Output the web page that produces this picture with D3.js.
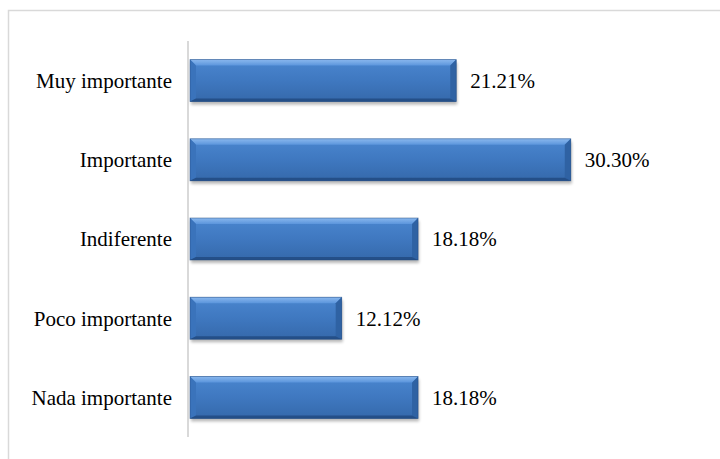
<!DOCTYPE html>
<html><head><meta charset="utf-8">
<script src="https://cdn.jsdelivr.net/npm/d3@7/dist/d3.min.js"></script>
<style>body{margin:0;background:#fff}svg{display:block}</style>
</head><body>
<svg id="c" width="720" height="459"></svg>
<script>
const categories = ["Muy importante","Importante","Indiferente","Poco importante","Nada importante"];
const values = [21.21, 30.30, 18.18, 12.12, 18.18];
const valueLabels = ["21.21%","30.30%","18.18%","12.12%","18.18%"];

const svg = d3.select("#c");
svg.append("rect").attr("x",8.5).attr("y",10.5).attr("width",730).attr("height",470)
  .attr("fill","#fff").attr("stroke","#d9d9d9").attr("stroke-width",1.5);

const x = d3.scaleLinear().domain([0,35]).range([189,189+35*12.6]);
const y = d3.scaleBand().domain(categories).range([41,437]).paddingInner(0.47).paddingOuter(0.235);

const defs = svg.append("defs");
const g1 = defs.append("linearGradient").attr("id","gmain").attr("x1",0).attr("y1",0).attr("x2",0).attr("y2",1);
g1.append("stop").attr("offset","0%").attr("stop-color","#4a86cf");
g1.append("stop").attr("offset","50%").attr("stop-color","#3f78c0");
g1.append("stop").attr("offset","100%").attr("stop-color","#3569ab");
const gt = defs.append("linearGradient").attr("id","gtop").attr("x1",0).attr("y1",0).attr("x2",0).attr("y2",1);
gt.append("stop").attr("offset","0%").attr("stop-color","#8ab8ee");
gt.append("stop").attr("offset","100%").attr("stop-color","#5b95dc");
const f = defs.append("filter").attr("id","sh").attr("x","-5%").attr("y","-20%").attr("width","110%").attr("height","150%");
f.append("feGaussianBlur").attr("stdDeviation",1.5);

svg.append("line").attr("x1",188).attr("x2",188).attr("y1",41).attr("y2",437)
  .attr("stroke","#d9d9d9").attr("stroke-width",2);

const FONT = "'Liberation Serif','Times New Roman',serif";
const bev = 6;
categories.forEach((c,i)=>{
  const x0 = x(0)+1, x1 = x(values[i]), y0 = y(c), h = y.bandwidth(), y1 = y0+h;
  const g = svg.append("g");
  g.append("rect").attr("x",x0+1).attr("y",y0+3).attr("width",x1-x0).attr("height",h)
    .attr("fill","#000").attr("opacity",0.28).attr("filter","url(#sh)");
  g.append("rect").attr("x",x0).attr("y",y0).attr("width",x1-x0).attr("height",h).attr("fill","url(#gmain)");
  g.append("path").attr("d",`M${x0},${y0}L${x1},${y0}L${x1-bev},${y0+bev}L${x0+bev},${y0+bev}Z`).attr("fill","url(#gtop)");
  g.append("path").attr("d",`M${x0},${y0}L${x0+bev},${y0+bev}L${x0+bev},${y1-3}L${x0},${y1}Z`).attr("fill","#3a73bb");
  g.append("path").attr("d",`M${x1},${y0}L${x1},${y1}L${x1-bev},${y1-3}L${x1-bev},${y0+bev}Z`).attr("fill","#2f62a3");
  g.append("path").attr("d",`M${x0},${y1}L${x1},${y1}L${x1-bev},${y1-3}L${x0+bev},${y1-3}Z`).attr("fill","#244f88");
  g.append("rect").attr("x",x0).attr("y",y0).attr("width",x1-x0).attr("height",h)
    .attr("fill","none").attr("stroke","#21497e").attr("stroke-width",0.8).attr("opacity",0.6);
  svg.append("text").attr("x",x1+14).attr("y",y0+h/2).attr("dy","0.35em")
    .style("font-family",FONT).style("font-size","21px").attr("fill","#000").text(valueLabels[i]);
  svg.append("text").attr("x",172).attr("y",y0+h/2).attr("dy","0.35em").attr("text-anchor","end")
    .style("font-family",FONT).style("font-size","21px").attr("fill","#000").text(c);
});
</script>
</body></html>
